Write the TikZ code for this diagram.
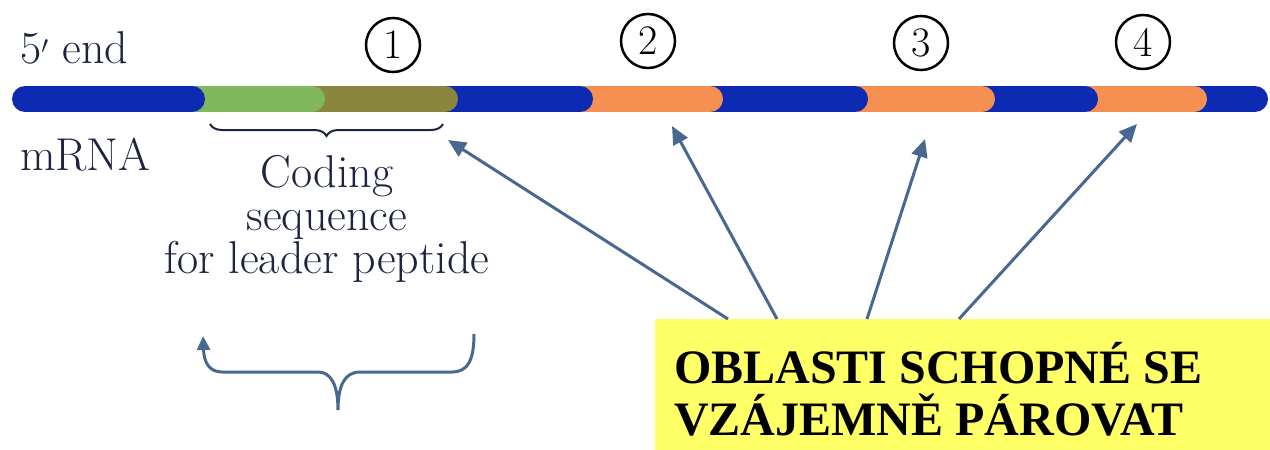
\documentclass[tikz,border=0pt]{standalone}
\usepackage{fontspec}
\newfontfamily\boxfont{Liberation Serif}
\usetikzlibrary{arrows.meta,positioning,decorations.pathreplacing}

\definecolor{strandblue}{RGB}{12,42,178}
\definecolor{pairorange}{RGB}{246,144,82}
\definecolor{leadgreen}{RGB}{128,182,92}
\definecolor{leadolive}{RGB}{138,134,62}
\definecolor{arrowblue}{RGB}{72,104,146}
\definecolor{pairyellow}{RGB}{255,255,102}
\definecolor{inktext}{RGB}{28,36,64}

\begin{document}
\begin{tikzpicture}[
    x=1pt, y=-1pt,
    txt/.style={font=\fontsize{46}{43}\selectfont, text=inktext, inner sep=0pt},
    num/.style={draw, circle, line width=2.5pt, minimum size=54pt, inner sep=0pt,
        font=\fontsize{42}{42}\selectfont},
    seg/.style={line width=26pt, line cap=round},
    pointer/.style={-{Triangle[length=18pt,width=16pt]}, line width=3pt, draw=arrowblue},
    pairbox/.style={fill=pairyellow, inner sep=0pt, minimum width=615pt, minimum height=131pt},
    boxtxt/.style={font=\boxfont\bfseries\fontsize{48}{52}\selectfont, align=left, inner sep=0pt}
]
\useasboundingbox (0,0) rectangle (1270,450);

% mRNA strand, drawn right to left so each piece overlaps the next
\foreach \a/\b/\c in {1194/1255/strandblue, 1085/1194/pairorange, 982/1085/strandblue,
    855/982/pairorange, 710/855/strandblue, 580/710/pairorange, 445/580/strandblue,
    312/445/leadolive, 192/312/leadgreen, 25/192/strandblue}
    \draw[seg, \c] (\a,99) -- (\b,99);

\node[txt, anchor=base west] (fiveend) at (20,63) {5$'$ end};
\node[txt, anchor=base west] (mrna) at (20,170) {mRNA};

\node[num] (c1) at (393,45) {1};
\node[num] (c2) at (648,41) {2};
\node[num] (c3) at (921,43) {3};
\node[num] (c4) at (1143,42) {4};

\draw[decorate, decoration={brace, mirror, amplitude=12pt}, line width=2pt, inktext]
    (210,124) -- (443,124);
\node[txt, align=center, anchor=base] (coding) at (327,273)
    {Coding\\sequence\\for leader peptide};

% bottom curly arrow
\coordinate (cstart) at (474,334);
\coordinate (cend) at (203,336);
\draw[-{Triangle[length=14pt,width=13pt]}, line width=3pt, arrowblue]
    (cstart) .. controls (474,360) and (468,372) .. (452,372) -- (360,372)
    .. controls (345,372) and (338,385) .. (338,410)
    .. controls (338,385) and (331,372) .. (318,372) -- (222,372)
    .. controls (209,372) and (204,362) .. (cend);

% yellow box
\node[pairbox, anchor=north west] (box) at (655,319) {};
\node[boxtxt, anchor=base west] (boxtext) at (674,435)
    {OBLASTI SCHOPNÉ SE\\VZÁJEMNĚ PÁROVAT};

\coordinate (s1) at (728,319);
\coordinate (s2) at (777,319);
\coordinate (s3) at (867,319);
\coordinate (s4) at (959,319);
\coordinate (t1) at (448,140);
\coordinate (t2) at (672,126);
\coordinate (t3) at (925,139);
\coordinate (t4) at (1137,124);
\foreach \i in {1,...,4}
    \draw[pointer] (s\i) -- (t\i);
\end{tikzpicture}
\end{document}
